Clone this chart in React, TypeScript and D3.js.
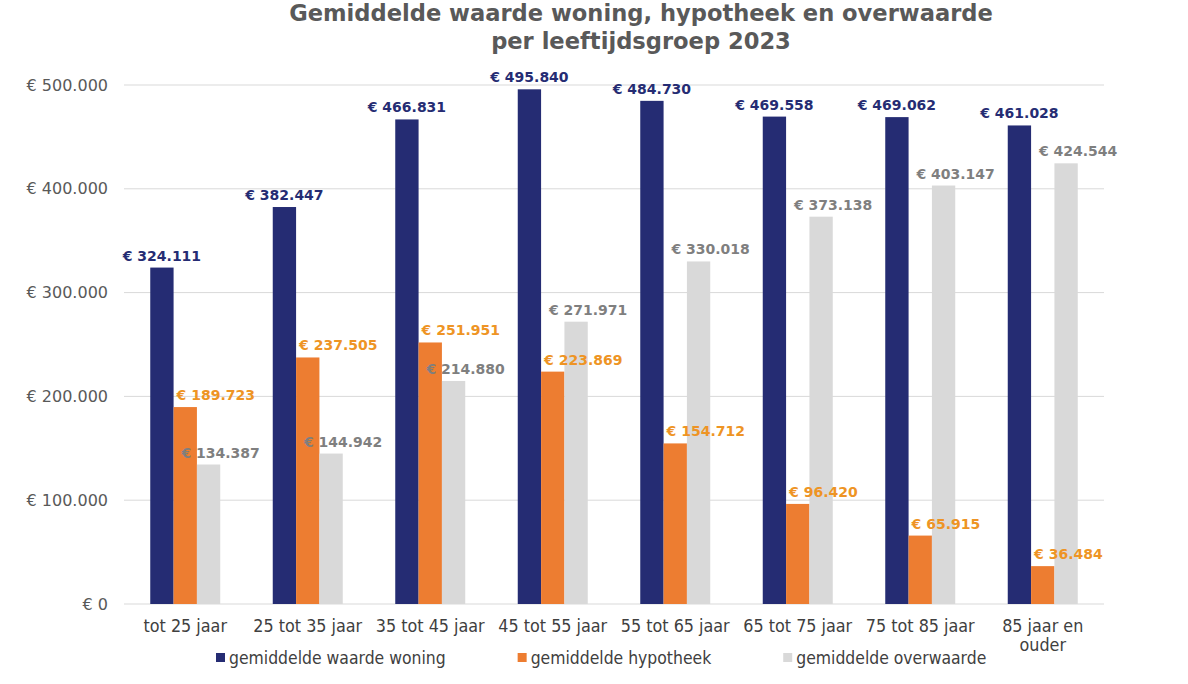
import React from "react";
import * as d3 from "d3";

const categories = [
  "tot 25 jaar",
  "25 tot 35 jaar",
  "35 tot 45 jaar",
  "45 tot 55 jaar",
  "55 tot 65 jaar",
  "65 tot 75 jaar",
  "75 tot 85 jaar",
  "85 jaar en ouder",
];
const seriesNames = [
  "gemiddelde waarde woning",
  "gemiddelde hypotheek",
  "gemiddelde overwaarde",
];
const waardeWoning = [324111, 382447, 466831, 495840, 484730, 469558, 469062, 461028];
const hypotheek = [189723, 237505, 251951, 223869, 154712, 96420, 65915, 36484];
const overwaarde = [134387, 144942, 214880, 271971, 330018, 373138, 403147, 424544];
const yTicks = [0, 100000, 200000, 300000, 400000, 500000];
const titleLines = [
  "Gemiddelde waarde woning, hypotheek en overwaarde",
  "per leeftijdsgroep 2023",
];

const W = 1188;
const H = 684;
const M = { left: 124, right: 84, top: 85, bottom: 80 };
const barColors = ["#252C73", "#ED7D31", "#D9D9D9"];
const labelColors = ["#252C73", "#EE9424", "#7F7F7F"];
const condFont = "'DejaVu Sans Condensed', 'DejaVu Sans', sans-serif";
const mainFont = "'DejaVu Sans', Verdana, sans-serif";

const fmt = (v: number) =>
  "€ " + d3.format(",")(v).replace(/,/g, ".");

let ctx: CanvasRenderingContext2D | null = null;
function measure(text: string, font: string) {
  if (!ctx) ctx = document.createElement("canvas").getContext("2d");
  if (!ctx) return text.length * 8;
  ctx.font = font;
  return ctx.measureText(text).width;
}

export default function App() {
  const series = [waardeWoning, hypotheek, overwaarde];
  const y = d3.scaleLinear().domain([0, 500000]).range([H - M.bottom, M.top]);
  const x0 = d3.scaleBand<string>().domain(categories).range([M.left, W - M.right]).padding(0);
  const groupW = 70;
  const x1 = d3
    .scaleBand<string>()
    .domain(seriesNames)
    .range([-groupW / 2, groupW / 2])
    .padding(0);

  const catFontSize = 17.8;
  const catFontStr = `${catFontSize}px 'DejaVu Sans Condensed', 'DejaVu Sans', sans-serif`;

  const wrap = (text: string, maxW: number) => {
    const words = text.split(" ");
    const lines: string[] = [];
    let cur = "";
    words.forEach((w) => {
      const t = cur ? cur + " " + w : w;
      if (measure(t, catFontStr) > maxW && cur) {
        lines.push(cur);
        cur = w;
      } else cur = t;
    });
    if (cur) lines.push(cur);
    return lines;
  };

  const legendFontSize = 17.4;
  const legendFontStr = `${legendFontSize}px 'DejaVu Sans Condensed', 'DejaVu Sans', sans-serif`;
  const sq = 9;
  const legendGap = 72;
  const legendItems: { name: string; x: number; color: string }[] = [];
  let lx = 0;
  seriesNames.forEach((n, i) => {
    legendItems.push({ name: n, x: lx, color: barColors[i] });
    lx += sq + 4 + measure(n, legendFontStr) + legendGap;
  });
  const legendStart = 216;

  const labelAnchor = ["middle", "start", "middle"] as const;
  const labelDx = (i: number, bx: number, bw: number) =>
    i === 0 ? bx + bw / 2 : i === 1 ? bx + 3 : bx + bw / 2 + 12;

  return (
    <svg
      width={W}
      height={H}
      style={{ position: "absolute", left: 0, top: 0, background: "#fff" }}
    >
      {titleLines.map((t, i) => (
        <text
          key={i}
          x={641}
          y={21 + i * 28}
          textAnchor="middle"
          fontFamily={mainFont}
          fontWeight="bold"
          fontSize={22.6}
          fill="#595959"
        >
          {t}
        </text>
      ))}

      {yTicks.map((t) => (
        <g key={t}>
          <line
            x1={M.left}
            x2={W - M.right}
            y1={y(t)}
            y2={y(t)}
            stroke="#D9D9D9"
            strokeWidth={1}
          />
          <text
            x={108}
            y={y(t)}
            dy="0.35em"
            textAnchor="end"
            fontFamily={mainFont}
            fontSize={16}
            fill="#595959"
          >
            {fmt(t)}
          </text>
        </g>
      ))}

      {categories.map((c, ci) => {
        const cx = (x0(c) as number) + x0.bandwidth() / 2;
        return (
          <g key={c}>
            {series.map((s, si) => {
              const bx = cx + (x1(seriesNames[si]) as number);
              const bw = x1.bandwidth();
              return (
                <rect
                  key={si}
                  x={bx}
                  y={y(s[ci])}
                  width={bw}
                  height={y(0) - y(s[ci])}
                  fill={barColors[si]}
                />
              );
            })}
            {series.map((s, si) => {
              const bx = cx + (x1(seriesNames[si]) as number);
              const bw = x1.bandwidth();
              return (
                <text
                  key={"l" + si}
                  x={labelDx(si, bx, bw)}
                  y={y(s[ci]) - 7}
                  textAnchor={labelAnchor[si]}
                  fontFamily={mainFont}
                  fontWeight="bold"
                  fontSize={14}
                  fill={labelColors[si]}
                >
                  {fmt(s[ci])}
                </text>
              );
            })}
            {wrap(c, x0.bandwidth() - 4).map((line, li) => (
              <text
                key={"c" + li}
                x={cx}
                y={632 + li * 19}
                textAnchor="middle"
                fontFamily={condFont}
                fontSize={catFontSize}
                fill="#404040"
              >
                {line}
              </text>
            ))}
          </g>
        );
      })}

      {legendItems.map((it) => (
        <g key={it.name} transform={`translate(${legendStart + it.x},0)`}>
          <rect x={0} y={653} width={sq} height={sq} fill={it.color} />
          <text
            x={sq + 4}
            y={664}
            fontFamily={condFont}
            fontSize={legendFontSize}
            fill="#404040"
          >
            {it.name}
          </text>
        </g>
      ))}
    </svg>
  );
}
